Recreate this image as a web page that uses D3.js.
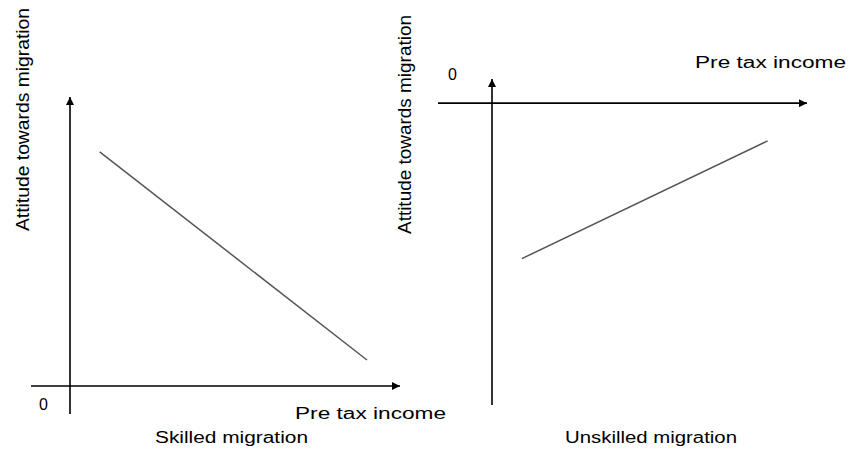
<!DOCTYPE html>
<html><head><meta charset="utf-8">
<script src="https://cdn.jsdelivr.net/npm/d3@7"></script>
<style>body{margin:0;background:#fff}svg{display:block}text{font-family:"Liberation Sans",Arial,sans-serif;fill:#000}</style>
</head><body><svg id="c" width="851" height="452"></svg>
<script>
// data
const panels = ["Skilled migration", "Unskilled migration"];
const xAxisLabel = "Pre tax income";
const yAxisLabel = "Attitude towards migration";
const originLabel = "0";
const skilledIncome = [0.9, 9.0];
const skilledAttitude = [8.1, 0.9];
const unskilledIncome = [0.95, 8.75];
const unskilledAttitude = [-5.15, -1.25];

const svg = d3.select("#c");
svg.append("defs").append("marker").attr("id","arr")
  .attr("viewBox","0 0 10 10").attr("refX",10).attr("refY",5)
  .attr("markerWidth",8).attr("markerHeight",8).attr("markerUnits","userSpaceOnUse")
  .attr("orient","auto")
  .append("path").attr("d","M0,0L10,5L0,10z").attr("fill","#000");

function axisLine(x1,y1,x2,y2){
  svg.append("line").attr("x1",x1).attr("y1",y1).attr("x2",x2).attr("y2",y2)
    .attr("stroke","#000").attr("stroke-width",1.6).attr("marker-end","url(#arr)");
}
function txt(s,x,y,len,size,rot){
  const t = svg.append("text").attr("x",x).attr("y",y).text(s)
    .style("font-size",size+"px");
  if(len) t.attr("textLength",len).attr("lengthAdjust","spacingAndGlyphs");
  if(rot) t.attr("transform",`rotate(-90,${x},${y})`);
  return t;
}
const line = (xs,ys)=>d3.line().x(d=>xs(d[0])).y(d=>ys(d[1]));

// Left panel
const x1 = d3.scaleLinear().domain([0,10]).range([70,400]);
const y1 = d3.scaleLinear().domain([0,10]).range([386,97]);
axisLine(x1(0), 414, x1(0), y1(10));
axisLine(31, y1(0), x1(10), y1(0));
svg.append("path").datum(d3.zip(skilledIncome, skilledAttitude))
  .attr("d", line(x1,y1)).attr("fill","none").attr("stroke","#555").attr("stroke-width",1.5);
txt(originLabel, 39, 410, null, 16);
txt(xAxisLabel, 295, 419, 151, 16);
txt(panels[0], 155, 443, 153, 16);
txt(yAxisLabel, 29, 231, 223, 18, true);

// Right panel
const x2 = d3.scaleLinear().domain([0,10]).range([492,807]);
const y2 = d3.scaleLinear().domain([-10,0.8]).range([405,79]);
axisLine(x2(0), 405, x2(0), y2(0.8));
axisLine(438, y2(0), x2(10), y2(0));
svg.append("path").datum(d3.zip(unskilledIncome, unskilledAttitude))
  .attr("d", line(x2,y2)).attr("fill","none").attr("stroke","#555").attr("stroke-width",1.5);
txt(originLabel, 448, 80, null, 16);
txt(xAxisLabel, 695, 68, 151, 16);
txt(panels[1], 565, 443, 172, 16);
txt(yAxisLabel, 411, 234, 219, 18, true);
</script></body></html>
